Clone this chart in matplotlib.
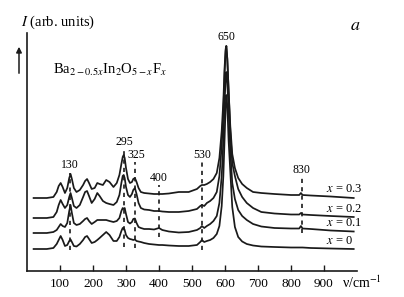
import matplotlib
matplotlib.use("Agg")
import matplotlib.pyplot as plt

plt.rcParams['font.family'] = ['Liberation Serif', 'DejaVu Serif']
plt.rcParams['mathtext.fontset'] = 'stix'

# wavenumber grid (cm^-1)
nu = [20, 60, 80, 90, 96, 102, 108, 115, 122, 128, 132, 136, 142, 150, 160, 170, 176, 182, 188, 196,
      205, 213, 220, 230, 240, 250, 262, 272, 280, 286, 290, 293, 296, 300, 306, 312, 318, 322, 327, 332,
      338, 345, 355, 370, 385, 400, 410, 430, 460, 490, 515, 525, 530, 537, 545, 555, 565, 575, 583, 590,
      595, 599, 602, 604, 607, 611, 616, 622, 630, 640, 652, 666, 685, 710, 750, 800, 825, 830, 835, 860,
      920, 990]

# intensities (arb. units, already offset)
I_x03 = [73, 73, 74, 79, 85, 88, 84, 78, 83, 93, 97, 92, 83, 79, 81, 86, 90, 92, 88, 82,
         83, 88, 87, 86, 91, 89, 84, 88, 96, 107, 114, 116, 113, 103, 92, 88, 89, 92, 93, 89,
         83, 79, 78, 77.5, 77, 77, 77, 77.5, 79, 79, 82, 85, 86, 86, 87, 89, 92, 98, 113, 140,
         170, 205, 222, 225, 212, 180, 145, 117, 103, 93, 87, 83, 79, 78, 77, 76, 76, 78, 76, 75.5,
         74.5, 73]
I_x02 = [53, 53, 54, 59, 66, 71, 67, 63, 66, 74, 78, 73, 65, 63, 66, 74, 79, 80, 75, 68,
         72, 78, 75, 70, 68, 67, 66, 69, 76, 88, 95, 96, 93, 84, 76, 74, 77, 81, 83, 77,
         68, 63, 61.5, 61, 60, 60, 59.5, 59, 59, 60, 62, 65, 66, 65, 68, 70, 73, 79, 95, 125,
         160, 200, 220, 225, 212, 180, 140, 108, 95, 82, 74, 68, 63, 59, 57.5, 56.5, 56.5, 58, 56.5, 56,
         55, 54]
I_x01 = [38, 38, 39, 41, 44, 47, 45, 44, 48, 60, 66, 58, 48, 46, 47, 50, 52, 53, 50, 47,
         49, 51, 51, 51, 51, 50, 49, 50, 53, 60, 63, 62, 63, 57, 49, 47.5, 49, 52, 52.5, 48,
         44, 43, 42, 42, 41.5, 43, 41, 39.5, 38.5, 39, 41, 43, 45, 43, 45, 47, 50, 55, 68, 95,
         130, 170, 193, 199, 188, 160, 120, 88, 72, 61, 55, 51, 47, 44.5, 43, 42.5, 42.5, 45, 42.5, 42,
         40.5, 39.5]
I_x00 = [22, 22, 23, 27, 31, 35, 31, 25, 26, 30, 31.5, 29, 25, 24.5, 27, 31, 34, 35, 32, 28,
         29, 31, 33, 36, 39, 36, 30, 30, 34, 40, 43, 43, 41, 36, 33, 32, 31.5, 31, 31.5, 30,
         29.5, 29, 28, 27, 26.5, 26, 26, 25.5, 25, 25, 26, 29, 31, 29, 30, 31, 33, 37, 45, 65,
         95, 135, 165, 176, 165, 130, 100, 64, 44, 34, 29.5, 27, 25.5, 24.5, 24, 23.5, 23.5, 23.5, 23.5, 23,
         22.5, 22]

series = [I_x03, I_x02, I_x01, I_x00]
series_labels = ['0.3', '0.2', '0.1', '0']
series_label_y = [82, 62, 48, 30]

# marked bands: position, label position, dashed line range
band_pos = [130, 294, 326, 400, 530, 833]
band_text = ['130', '295', '325', '400', '530', '830']
band_text_x = [130, 294, 332, 400, 530, 833]
band_text_y = [106, 129, 116, 93, 116, 101]
band_lo = [21, 24, 23, 34, 21, 38]
band_hi = [98, 121, 109, 86, 110, 93]

main_peak_text = '650'
main_peak_text_x = 603
main_peak_text_y = 234

xticks = [100, 200, 300, 400, 500, 600, 700, 800, 900]

W, H = 404, 297
fig = plt.figure(figsize=(W / 100, H / 100), dpi=100)
ax = fig.add_axes([27 / W, 26 / H, 330 / W, 238 / H])

for ys in series:
    ax.plot(nu, ys, color='#1a1a1a', lw=1.25, solid_joinstyle='round')

for p, lo, hi in zip(band_pos, band_lo, band_hi):
    ax.plot([p, p], [lo, hi], color='#1a1a1a', lw=1.2, ls=(0, (2.5, 2.5)))

for t, x, y in zip(band_text, band_text_x, band_text_y):
    ax.text(x, y, t, ha='center', va='center', fontsize=8.5)
ax.text(main_peak_text_x, main_peak_text_y, main_peak_text, ha='center', va='center', fontsize=8.5)

for lab, y in zip(series_labels, series_label_y):
    ax.text(906, y, r'$x$ = ' + lab, ha='left', va='center', fontsize=9)

ax.set_xlim(0, 1000)
ax.set_ylim(0, 238)
ax.set_xticks(xticks)
ax.set_xticklabels([str(v) for v in xticks], fontsize=9.5)
ax.set_yticks([])
ax.tick_params(axis='x', direction='in', length=4.5, width=1, pad=5, color='#1a1a1a')
for s in ['top', 'right']:
    ax.spines[s].set_visible(False)
for s in ['left', 'bottom']:
    ax.spines[s].set_linewidth(1.2)
    ax.spines[s].set_color('#1a1a1a')
ax.patch.set_alpha(0)

ax.text(955, -12, r'ν/cm$^{-1}$', ha='left', va='center', fontsize=10)

fig.text(21 / W, 1 - 22 / H, r'$I$ (arb. units)', ha='left', va='center', fontsize=10.5)
fig.text(53 / W, 1 - 70 / H, r'Ba$_{2-0.5x}$In$_2$O$_{5-x}$F$_x$', ha='left', va='center', fontsize=10.5)
fig.text(355 / W, 1 - 25 / H, r'$\mathbf{\it{a}}$', ha='center', va='center', fontsize=13)

fig.add_artist(matplotlib.patches.FancyArrowPatch(
    (19 / W, 1 - 76 / H), (19 / W, 1 - 44 / H), transform=fig.transFigure,
    arrowstyle='-|>', mutation_scale=8, lw=1.1, color='#1a1a1a'))

fig.savefig('out.png', dpi=100)
